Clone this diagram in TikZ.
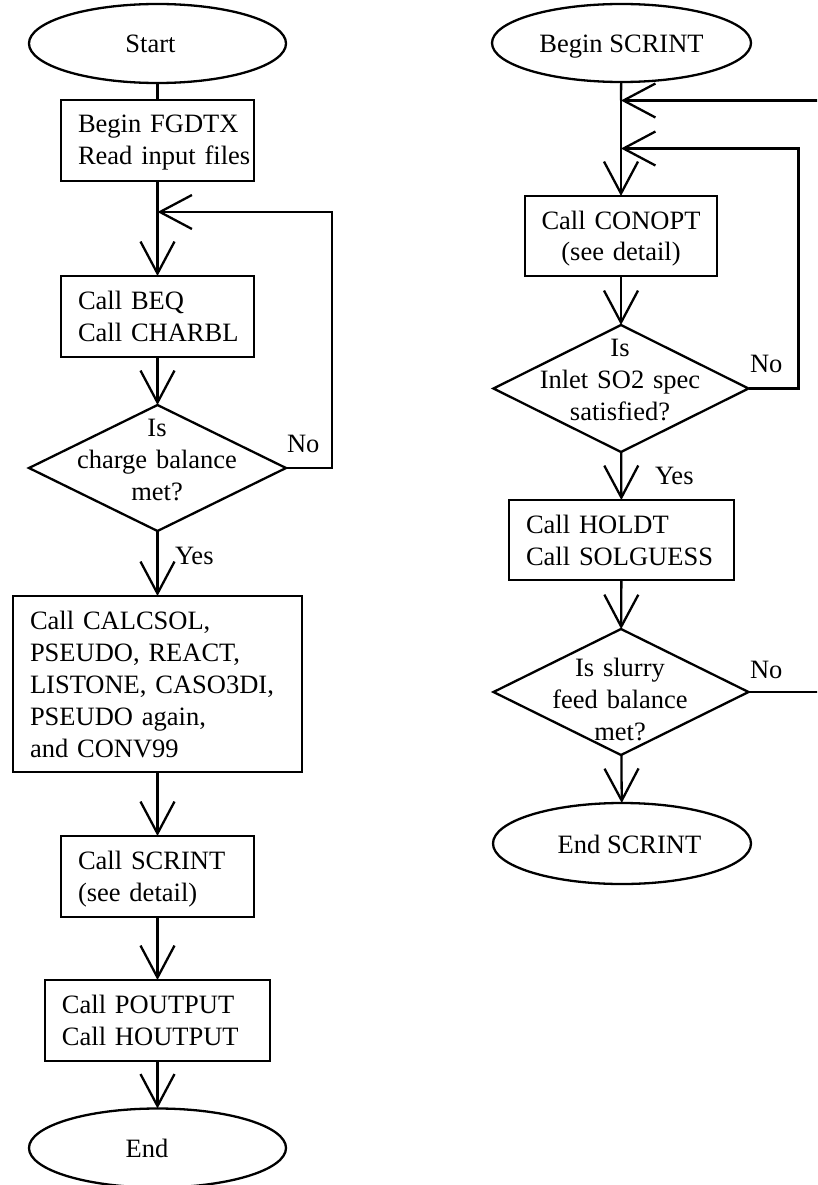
\documentclass[tikz,border=0pt]{standalone}
\usepackage{fontspec}
\setmainfont{Liberation Serif}
\usetikzlibrary{shapes.geometric,arrows.meta}
\begin{document}
\begin{tikzpicture}[x=1pt,y=-1pt,
  every node/.style={font=\fontsize{26.5}{32}\selectfont, outer sep=0pt},
  lw/.style={line width=2.3pt},
  arr/.style={lw, -{Straight Barb[length=32pt,width=34pt]}},
  term/.style={draw, lw, ellipse, inner sep=0pt, text height=19pt, text depth=0pt},
  boxl/.style={draw, lw, rectangle, inner sep=0pt, align=left, text height=33pt,
     execute at begin node={\leftskip=17pt\relax}},
  boxc/.style={draw, lw, rectangle, inner sep=0pt, align=center, text height=33pt},
  dia/.style={draw, lw, diamond, inner sep=0pt},
  dtext/.style={inner sep=0pt, text width=260pt, align=center, anchor=base},
  lbl/.style={inner sep=0pt, anchor=base west}
]
\clip (0,0) rectangle (817,1185);
% ---------- left column ----------
\node[term, minimum width=257pt, minimum height=79pt] (start) at (157.5,43.5) {Start\hspace*{14pt}};
\node[boxl, text width=193pt, minimum width=193pt, text depth=48pt] (b1) at (157.5,140.5) {Begin FGDTX\\Read input files};
\coordinate (j1) at (157.5,212);
\node[boxl, text width=193pt, minimum width=193pt, text depth=48pt] (b2) at (157.5,316.5) {Call BEQ\\Call CHARBL};
\node[dia, minimum width=257pt, minimum height=126pt] (d1) at (157.5,468) {};
\node[dtext] (d1t) at (157,436) {Is\\charge balance\\met?};
\node[boxl, text width=289pt, minimum width=289pt, text depth=143pt] (b3) at (157.5,684) {Call CALCSOL,\\PSEUDO, REACT,\\LISTONE, CASO3DI,\\PSEUDO again,\\and CONV99};
\node[boxl, text width=193pt, minimum width=193pt, text depth=48pt] (b4) at (157.5,876.5) {Call SCRINT\\(see detail)};
\node[boxl, text width=225pt, minimum width=225pt, text depth=48pt] (b5) at (157.5,1020.5) {Call POUTPUT\\Call HOUTPUT};
\node[term, minimum width=257pt, minimum height=79pt] (end) at (157.5,1148) {End\hspace*{21pt}};
\node[lbl] (no1) at (287,452) {No};
\node[lbl] (yes1) at (175,564) {Yes};
\draw[lw] (start) -- (b1);
\draw[lw] (b1) -- (j1);
\draw[arr] (j1) -- (b2);
\draw[arr] (b2) -- (d1);
\draw[arr] (d1) -- (b3);
\draw[arr] (b3) -- (b4);
\draw[arr] (b4) -- (b5);
\draw[arr] (b5) -- (end);
\draw[arr] (d1.east) -- ++(46,0) |- (j1);
% ---------- right column ----------
\node[term, minimum width=259pt, minimum height=78pt] (bs) at (621.5,43) {Begin SCRINT};
\coordinate (j2) at (621,100.5);
\coordinate (j3) at (621,148.5);
\node[boxc, text width=192pt, minimum width=192pt, text depth=47pt] (b6) at (621,236) {Call CONOPT\\(see detail)};
\node[dia, minimum width=255pt, minimum height=127pt] (d2) at (621,388.5) {};
\node[dtext] (d2t) at (620,356) {Is\\Inlet SO2 spec\\satisfied?};
\node[boxl, text width=225pt, minimum width=225pt, text depth=47pt] (b7) at (621.5,540) {Call HOLDT\\Call SOLGUESS};
\node[dia, minimum width=255pt, minimum height=126pt] (d3) at (621,692) {};
\node[dtext] (d3t) at (620,676) {Is slurry\\feed balance\\met?};
\node[term, minimum width=258pt, minimum height=81pt] (es) at (622,843.5) {\hspace*{15pt}End SCRINT};
\node[lbl] (no2) at (750,372) {No};
\node[lbl] (yes2) at (655,484) {Yes};
\node[lbl] (no3) at (750,678) {No};
\draw[lw] (bs) -- (j2);
\draw[lw] (j2) -- (j3);
\draw[arr] (j3) -- (b6);
\draw[arr] (b6) -- (d2);
\draw[arr] (d2) -- (b7);
\draw[arr] (b7) -- (d3);
\draw[arr] (d3) -- (es);
\draw[arr] (d2.east) -- ++(50,0) |- (j3);
\draw[arr] (d3.east) -- ++(75,0) |- (j2);
\end{tikzpicture}
\end{document}
